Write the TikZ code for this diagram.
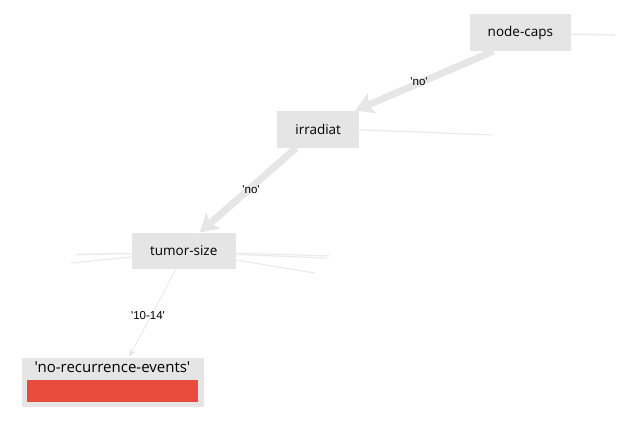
\documentclass[tikz,border=0pt]{standalone}
\usepackage{fontspec}
\setmainfont{Open Sans}[Ligatures=TeXOff]
\newfontfamily\edgefont{Liberation Sans}[Ligatures=TeXOff]
\usetikzlibrary{arrows.meta,calc}
\definecolor{boxgray}{HTML}{E5E5E5}
\definecolor{edgegray}{HTML}{E6E6E6}
\definecolor{straygray}{HTML}{EBEBEB}
\definecolor{leafred}{HTML}{E74C3C}
\tikzset{
  treenode/.style={fill=boxgray, inner sep=0pt, font=\fontsize{13.5}{16}\selectfont, text=black},
  thickedge/.style={draw=edgegray, line width=7pt, -{Stealth[length=18pt,width=21pt,inset=4pt]}},
  thinedge/.style={draw=edgegray, line width=0.8pt, -{Stealth[length=8pt,width=7pt]}},
  stray/.style={draw=straygray, line width=1.5pt},
  elabel/.style={font=\edgefont\fontsize{11.5}{13}\selectfont, text=black, inner sep=1pt},
}
\begin{document}
\begin{tikzpicture}[x=1pt,y=-1pt]
\useasboundingbox (0,0) rectangle (617,429);
% nodes
\node[treenode, minimum width=100.5pt, minimum height=36.7pt] (nc) at (520.35,32.65) {node-caps};
\node[treenode, minimum width=81.7pt, minimum height=37pt] (ir) at (318.15,129.2) {irradiat};
\node[treenode, minimum width=104pt, minimum height=36.6pt] (ts) at (183.7,251) {tumor-size};
\node[fill=boxgray, inner sep=0pt, minimum width=181.7pt, minimum height=49pt] (leaf) at (113.15,382.5) {};
\node[font=\fontsize{15}{17}\selectfont, inner sep=0pt] (leaftext) at (112.5,367.5) {'no-recurrence-events'};
\node[fill=leafred, inner sep=0pt, minimum width=171.7pt, minimum height=21.7pt] (leafbar) at (112.35,390.85) {};
% stray lines
\coordinate (s1) at (615,35);
\coordinate (s2) at (493,135);
\coordinate (s3) at (76,254.5);
\coordinate (s4) at (71,263);
\coordinate (s5) at (330,256);
\coordinate (s6) at (327,258);
\coordinate (s7) at (315,273);
\draw[stray] ($(nc.east)+(0,1.5)$) -- (s1);
\draw[stray, line width=1.2pt] ($(ir.east)+(0,0.5)$) -- (s2);
\draw[stray] ($(ts.west)+(0,2.5)$) -- (s3);
\draw[stray, line width=1.2pt] ($(ts.west)+(0,6)$) -- (s4);
\draw[stray, line width=1.2pt] ($(ts.east)+(0,2)$) -- (s5);
\draw[stray, line width=1.2pt] ($(ts.east)+(0,3.5)$) -- (s6);
\draw[stray, line width=1.2pt] ($(ts.east)+(0,9)$) -- (s7);
% edges
\draw[thickedge] ($(nc.south)+(-27,0)$) -- ($(ir.north east)+(-4,0)$);
\draw[thickedge] ($(ir.south)+(-22,0)$) -- ($(ts.north)+(16,0)$);
\draw[thinedge] ($(ts.south)+(-8,0)$) -- ($(leaf.north)+(16,-1)$);
% edge labels
\node[elabel] (l1) at (419,82) {'no'};
\node[elabel] (l2) at (251,190) {'no'};
\node[elabel] (l3) at (148,316) {'10-14'};
\end{tikzpicture}
\end{document}
